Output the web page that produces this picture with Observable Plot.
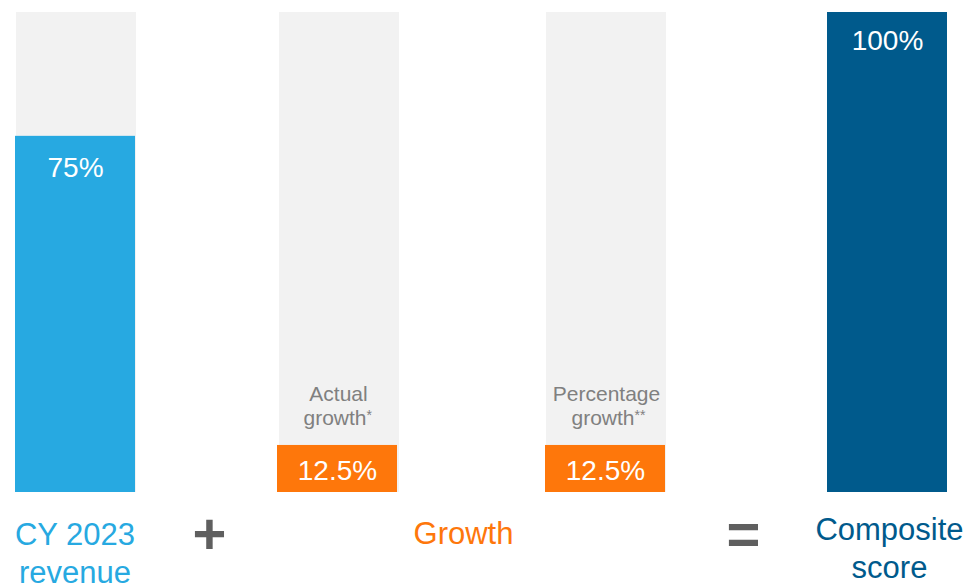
<!DOCTYPE html>
<html><head><meta charset="utf-8">
<script src="https://cdn.jsdelivr.net/npm/d3@7"></script>
<script src="https://cdn.jsdelivr.net/npm/@observablehq/plot@0.6"></script>
<style>html,body{margin:0;padding:0;background:#fff;}#chart{width:974px;height:588px;overflow:hidden}</style>
</head><body><div id="chart"></div>
<script>
// ---- data ----
const categories = ["CY 2023 revenue", "Actual growth", "Percentage growth", "Composite score"];
const barValues = [74.2, 9.8, 9.8, 100];           // bar heights as drawn (% of full bar)
const valueLabels = ["75%", "12.5%", "12.5%", "100%"];
const subLabelTop = ["", "Actual", "Percentage", ""];
const subLabelBottom = ["", "growth", "growth", ""];
const footnoteMarks = ["", "*", "**", ""];
const groupLabels = ["CY 2023\nrevenue", "Growth", "Composite\nscore"];
const operators = ["+", "="];

// ---- layout & style (not data) ----
const W = 974, H = 588;
const barCenter = [75, 337, 605, 887];
const bgCenter = [76, 339, 606, 887];
const barHalf = 60;
const groupCenter = [74.5, 463, 889];
const groupDy = [90, 51, 85];
const operatorX = [209, 743];
const barColors = ["#27a9e1", "#fe770b", "#fe770b", "#005a8c"];
const groupColors = ["#27a9e1", "#fe770b", "#005a8c"];
const valueDy = [21, -13, -13, 18];
const font = "Liberation Sans, Arial, sans-serif";

const idx = categories.map((d, i) => i);
const growthIdx = idx.filter(i => subLabelTop[i] !== "");

const valueMarks = idx.map(i => Plot.text([i], {
  x: j => barCenter[j],
  y: j => (valueDy[j] > 0 ? barValues[j] : 0),
  text: j => valueLabels[j],
  fill: "white", fontSize: 28, fontFamily: font,
  lineAnchor: valueDy[i] > 0 ? "top" : "bottom",
  dy: valueDy[i]
}));

const groupMarks = groupLabels.map((g, k) => Plot.text([k], {
  x: j => groupCenter[j],
  text: j => groupLabels[j],
  fill: groupColors[k], fontSize: 31, fontFamily: font,
  frameAnchor: "bottom", lineAnchor: "bottom", lineHeight: 1.21,
  dy: groupDy[k]
}));

const chart = Plot.plot({
  width: W, height: H,
  marginTop: 12, marginBottom: 96, marginLeft: 0, marginRight: 0,
  x: {type: "linear", domain: [0, W], axis: null},
  y: {domain: [0, 100], axis: null},
  color: {type: "identity"},
  style: {fontFamily: font, background: "white"},
  marks: [
    Plot.rectY(idx.filter(i => barValues[i] < 100), {
      x1: i => bgCenter[i] - barHalf, x2: i => bgCenter[i] + barHalf,
      y1: 0, y2: 100, fill: "#f2f2f2"
    }),
    Plot.rectY(idx, {
      x1: i => barCenter[i] - barHalf, x2: i => barCenter[i] + barHalf,
      y1: 0, y2: i => barValues[i], fill: i => barColors[i]
    }),
    ...valueMarks,
    Plot.text(growthIdx, {
      x: i => barCenter[i] + 1, y: i => barValues[i], text: i => subLabelTop[i],
      fill: "#808080", fontSize: 21, fontFamily: font, lineAnchor: "bottom", dy: -44
    }),
    Plot.text(growthIdx, {
      x: i => barCenter[i], y: i => barValues[i], text: i => subLabelBottom[i],
      fill: "#808080", fontSize: 21, fontFamily: font, lineAnchor: "bottom",
      textAnchor: "end", dx: 29, dy: -20
    }),
    Plot.text(growthIdx, {
      x: i => barCenter[i], y: i => barValues[i], text: i => footnoteMarks[i],
      fill: "#808080", fontSize: 14, fontFamily: font, lineAnchor: "bottom",
      textAnchor: "start", dx: 29, dy: -25
    }),
    ...groupMarks,
    Plot.text(operators, {
      x: (d, i) => operatorX[i], text: d => d,
      fill: "#5f5f5f", fontSize: 58, fontWeight: "bold", fontFamily: font,
      frameAnchor: "bottom", lineAnchor: "bottom", dy: 61
    })
  ]
});
document.getElementById("chart").appendChild(chart);
</script></body></html>
